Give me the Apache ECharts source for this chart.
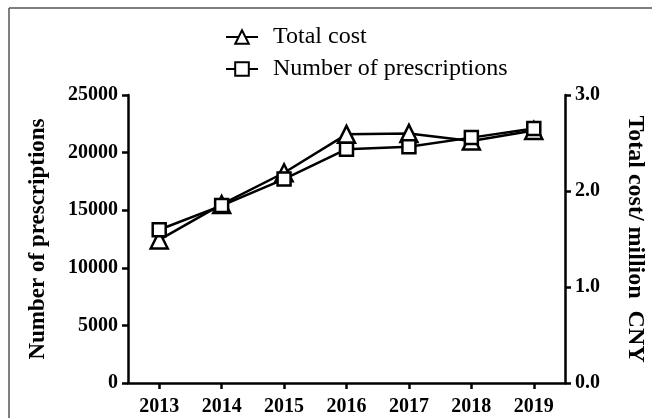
<!DOCTYPE html>
<html>
<head>
<meta charset="utf-8">
<script src="https://cdn.jsdelivr.net/npm/echarts@6/dist/echarts.min.js"></script>
<style>
html,body{margin:0;padding:0;background:#fff;}
#c{width:652px;height:418px;}
</style>
</head>
<body>
<div id="c"></div>
<script>
const years = ['2013','2014','2015','2016','2017','2018','2019'];
const totalCost = [1.49, 1.86, 2.19, 2.59, 2.60, 2.52, 2.63];
const prescriptions = [13300, 15400, 17700, 20300, 20500, 21300, 22100];
const leftTicks = [0, 5000, 10000, 15000, 20000, 25000];
const rightTicks = [0, 1, 2, 3];

const FONT = '"Liberation Serif", "Times New Roman", serif';
const chart = echarts.init(document.getElementById('c'), null, {renderer: 'canvas'});
const labelStyle = {color: '#000', fontFamily: FONT, fontWeight: 'bold', fontSize: 20, margin: 10};
const axisCommon = {
  axisLine: {show: true, lineStyle: {color: '#000', width: 2.5}},
  axisTick: {show: true, length: 6, lineStyle: {color: '#000', width: 2.5}},
  splitLine: {show: false}
};
chart.setOption({
  animation: false,
  backgroundColor: '#fff',
  graphic: [
    {type: 'line', shape: {x1: 9, y1: 8, x2: 652, y2: 8}, style: {stroke: '#555', lineWidth: 1.5}},
    {type: 'line', shape: {x1: 9, y1: 8, x2: 9, y2: 418}, style: {stroke: '#555', lineWidth: 1.5}}
  ],
  legend: {
    orient: 'vertical',
    left: 220,
    top: 20,
    itemWidth: 32,
    itemHeight: 17,
    itemGap: 8,
    textStyle: {fontFamily: FONT, fontSize: 24, color: '#000', padding: [0, 0, 0, 10]},
    data: ['Total cost', 'Number of prescriptions']
  },
  grid: {left: 128, right: 87, top: 95, bottom: 35, outerBoundsMode: 'none', containLabel: false},
  xAxis: {
    type: 'category',
    data: years,
    boundaryGap: true,
    axisLine: {lineStyle: {color: '#000', width: 2.5}},
    axisTick: {show: true, alignWithLabel: true, length: 6, lineStyle: {color: '#000', width: 2.5}},
    axisLabel: Object.assign({}, labelStyle, {margin: 14})
  },
  yAxis: [
    Object.assign({}, axisCommon, {
      type: 'value', position: 'left', min: leftTicks[0], max: leftTicks[leftTicks.length-1], interval: 5000,
      axisLabel: Object.assign({}, labelStyle, {formatter: v => String(v)}),
      name: 'Number of prescriptions', nameLocation: 'middle', nameGap: 78, nameRotate: 90,
      nameTextStyle: {color: '#000', fontFamily: FONT, fontWeight: 'bold', fontSize: 23}
    }),
    Object.assign({}, axisCommon, {
      type: 'value', position: 'right', min: rightTicks[0], max: rightTicks[rightTicks.length-1], interval: 1,
      axisLabel: Object.assign({}, labelStyle, {formatter: v => v.toFixed(1)}),
      name: 'Total cost/ million  CNY', nameLocation: 'middle', nameGap: 58, nameRotate: -90,
      nameTextStyle: {color: '#000', fontFamily: FONT, fontWeight: 'bold', fontSize: 24}
    })
  ],
  series: [
    {
      name: 'Total cost', type: 'line', yAxisIndex: 1, data: totalCost,
      symbol: 'triangle', symbolSize: 17,
      lineStyle: {color: '#000', width: 2.5},
      itemStyle: {color: '#fff', borderColor: '#000', borderWidth: 2.5}
    },
    {
      name: 'Number of prescriptions', type: 'line', yAxisIndex: 0, data: prescriptions,
      symbol: 'rect', symbolSize: 13,
      lineStyle: {color: '#000', width: 2.5},
      itemStyle: {color: '#fff', borderColor: '#000', borderWidth: 2.5}
    }
  ]
});
</script>
</body>
</html>
